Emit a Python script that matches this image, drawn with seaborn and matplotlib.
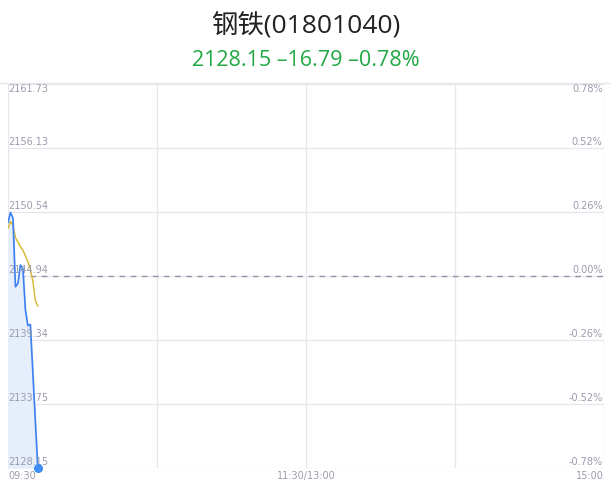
import numpy as np
import pandas as pd
import seaborn as sns
import matplotlib.pyplot as plt

# intraday data (minutes after 09:30)
minutes = [0, 1, 2, 3, 4, 5, 6, 7, 8, 9, 10, 11, 12]
price = [2149.6, 2150.5, 2150.0, 2144.0, 2144.3, 2145.9, 2145.6, 2142.0, 2140.6, 2140.7, 2136.5, 2132.3, 2128.15]
avg_price = [2149.1, 2149.7, 2149.4, 2148.3, 2147.9, 2147.5, 2147.2, 2146.7, 2146.2, 2145.5, 2144.5, 2142.8, 2142.3]

prev_close = 2144.94
y_ticks = [2161.73, 2156.13, 2150.54, 2144.94, 2139.34, 2133.75, 2128.15]
y_labels = ["2161.73", "2156.13", "2150.54", "2144.94", "2139.34", "2133.75", "2128.15"]
pct_labels = ["0.78%", "0.52%", "0.26%", "0.00%", "-0.26%", "-0.52%", "-0.78%"]
x_ticks = [0, 120, 240]
x_labels = ["09:30", "11:30/13:00", "15:00"]

title = "钢铁(01801040)"
subtitle = "2128.15 \u201316.79 \u20130.78%"

df = pd.DataFrame({"minute": minutes, "price": price, "avg": avg_price})

sns.set_style("white")
plt.rcParams['font.family'] = ['Noto Sans CJK SC', 'DejaVu Sans']

fig = plt.figure(figsize=(6.11, 4.92), dpi=100)
ax = fig.add_axes([8 / 611, 24 / 492, 596 / 611, 384 / 492])

grid_c = "#e6e7ec"
label_c = "#9a9cae"

ax.set_xlim(0, 240)
ax.set_ylim(y_ticks[-1], y_ticks[0])
for v in y_ticks:
    ax.axhline(v, color=grid_c, lw=0.9, zorder=0)
for v in [0, 60, 120, 180, 240]:
    ax.axvline(v, color=grid_c, lw=0.9, zorder=0)
ax.axhline(prev_close, color="#9094aa", lw=1, ls=(0, (4, 4)), zorder=1)

ax.fill_between(df["minute"], df["price"], y_ticks[-1], color="#e6eefc", zorder=1)
sns.lineplot(data=df, x="minute", y="price", ax=ax, color="#3b7ff0", lw=1.2, zorder=3)
sns.lineplot(data=df, x="minute", y="avg", ax=ax, color="#d4b72c", lw=1, zorder=2)
ax.scatter([minutes[-1]], [price[-1]], s=30, color="#3d8ef7", zorder=4, clip_on=False)

ax.set_xticks([])
ax.set_yticks([])
ax.set_xlabel("")
ax.set_ylabel("")
for s in ax.spines.values():
    s.set_visible(False)

# y labels inside plot
for i, (v, lab, pct) in enumerate(zip(y_ticks, y_labels, pct_labels)):
    va = "top" if i == 0 else "bottom"
    dy = 0 if i == 0 else 1
    ax.annotate(lab, (0, v), xytext=(0, dy), textcoords="offset points",
                ha="left", va=va, fontsize=7, color=label_c, family="DejaVu Sans")
    ax.annotate(pct, (240, v), xytext=(-1, dy), textcoords="offset points",
                ha="right", va=va, fontsize=7, color=label_c, family="DejaVu Sans")

for v, lab, ha in zip(x_ticks, x_labels, ["left", "center", "right"]):
    ax.annotate(lab, (v, y_ticks[-1]), xytext=(0, -2), textcoords="offset points",
                ha=ha, va="top", fontsize=7, color=label_c, family="DejaVu Sans",
                annotation_clip=False)

fig.add_artist(plt.Line2D([0, 1], [1 - 83 / 492] * 2, color=grid_c, lw=1))
fig.text(0.5, 1 - 26 / 492, title, ha="center", va="center", fontsize=19,
         color="#222222", weight="medium", family=["Open Sans", "Noto Sans CJK SC"])
fig.text(0.5, 1 - 60 / 492, subtitle, ha="center", va="center", fontsize=15.5,
         color="#21a843", family=["Open Sans", "DejaVu Sans"])

fig.savefig("out.png", dpi=100)
